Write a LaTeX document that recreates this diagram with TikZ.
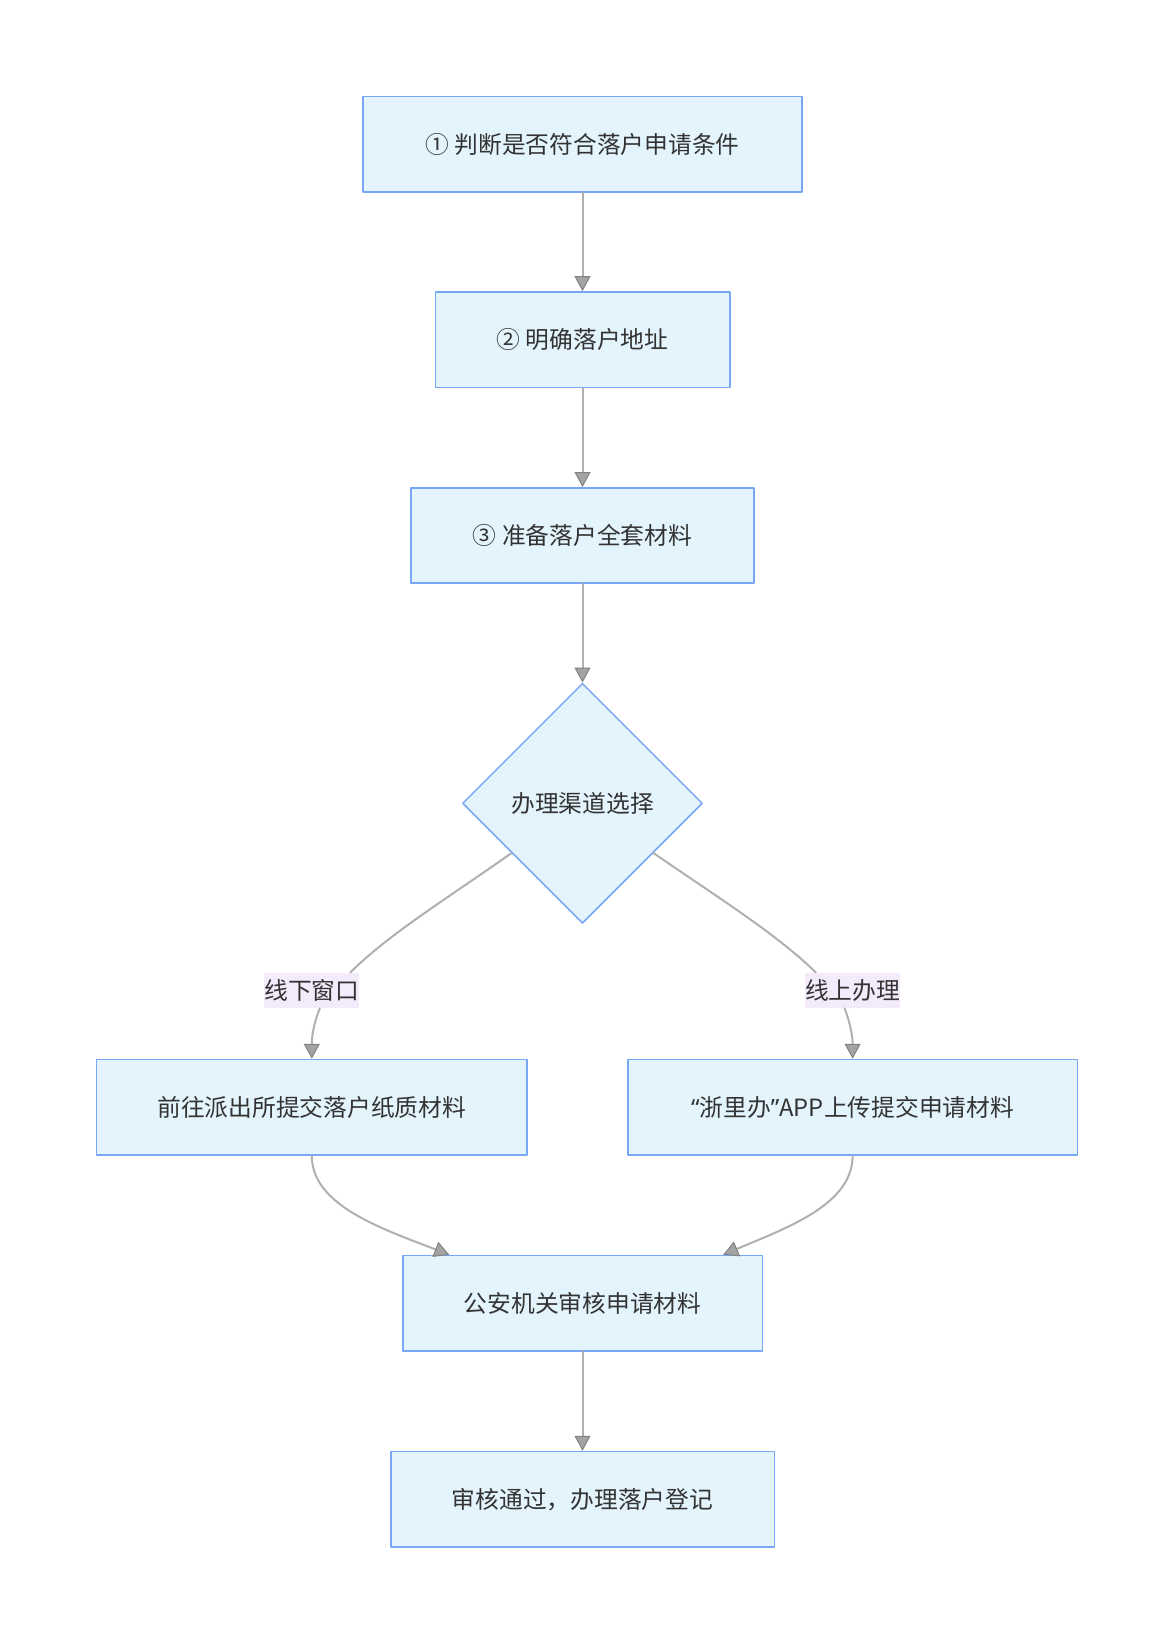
\documentclass[tikz,border=0pt]{standalone}
\usepackage{fontspec}
\setmainfont{Noto Sans CJK SC}
\newfontfamily\quotefont{Noto Sans}
\usetikzlibrary{arrows.meta,shapes.geometric}
\definecolor{boxfill}{HTML}{E3F4FD}
\definecolor{boxline}{HTML}{7AA6F6}
\definecolor{linkgrey}{HTML}{B0B0B0}
\definecolor{tipgrey}{HTML}{A3A3A3}
\definecolor{labfill}{HTML}{F3EAFB}
\definecolor{txt}{HTML}{333333}
\tikzset{
	stepbox/.style={draw=boxline, fill=boxfill, line width=1.5bp, minimum height=95.4bp, inner sep=0pt, text=txt},
	choicebox/.style={diamond, aspect=1, draw=boxline, fill=boxfill, line width=1.5bp, minimum width=240bp, minimum height=240bp, inner sep=0pt, text=txt},
	edgelabel/.style={fill=labfill, minimum width=95bp, minimum height=35.5bp, inner sep=0pt, text=txt},
	link/.style={draw=linkgrey, line width=2bp},
	arr/.style={link, -{Triangle[width=16bp, length=15bp, line width=1bp, color=tipgrey!80!black, fill=tipgrey]}}
}
\begin{document}
\begin{tikzpicture}[x=1bp, y=-1bp, font=\fontsize{23.75bp}{28bp}\selectfont, line join=round, line cap=round,
	declare function={cx=582.5;}]
	\useasboundingbox (0,0) rectangle (1174,1644);
	\path
	(cx,144.1) coordinate (P1)
	(cx,339.6) coordinate (P2)
	(cx,535.5) coordinate (P3)
	(cx,803.3) coordinate (PC)
	(311.8,1107.2) coordinate (PL)
	(852.6,1107.2) coordinate (PR)
	(cx,1303.2) coordinate (PA)
	(cx,1499.2) coordinate (PD)
	;
	\node[stepbox, minimum width=439.3bp] (s1) at (P1) {① 判断是否符合落户申请条件};
	\node[stepbox, minimum width=294.5bp] (s2) at (P2) {② 明确落户地址};
	\node[stepbox, minimum width=342.8bp] (s3) at (P3) {③ 准备落户全套材料};
	\node[choicebox] (choice) at (PC) {办理渠道选择};
	\node[stepbox, minimum width=430.7bp] (offline) at (PL) {前往派出所提交落户纸质材料};
	\node[stepbox, minimum width=449.5bp] (online) at (PR) {{\quotefont “}浙里办{\quotefont ”}APP上传提交申请材料};
	\node[stepbox, minimum width=359.5bp] (review) at (PA) {公安机关审核申请材料};
	\node[stepbox, minimum width=383.5bp] (done) at (PD) {审核通过，办理落户登记};
	\node[edgelabel] (lboff) at (311.8,990.4) {线下窗口};
	\node[edgelabel] (lbon) at (852.6,990.4) {线上办理};
	\foreach \a/\b in {s1/s2,s2/s3,s3/choice,review/done}{
	\draw[arr] (\a) -- (\b);
}
	\draw[link] (choice.215) .. controls (452.5,895) and (390,933) .. (lboff.25);
	\draw[link] (choice.-35) .. controls (714,895) and (775.5,933) .. (lbon.154);
	\draw[arr] (lboff.-66) .. controls (313,1025) and (311.8,1038) .. (offline.north);
	\draw[arr] (lbon.-114) .. controls (851,1025) and (852.6,1038) .. (online.north);
	\draw[arr] (offline.south) .. controls (311.8,1205) and (380,1228) .. (review.160.4);
	\draw[arr] (online.south) .. controls (852.6,1205) and (786,1228) .. (review.19.4);
\end{tikzpicture}
\end{document}
